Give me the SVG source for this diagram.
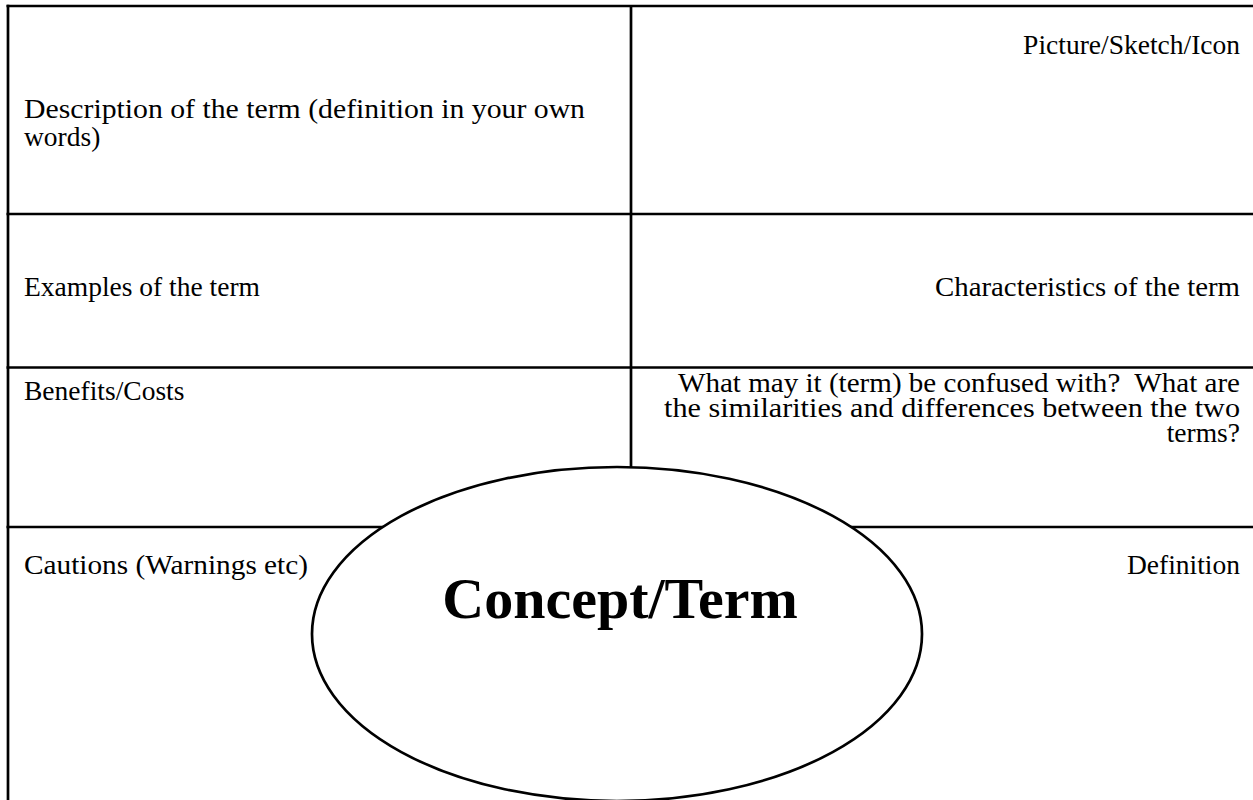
<svg xmlns="http://www.w3.org/2000/svg" width="1253" height="800" viewBox="0 0 1253 800">
<style>
.ln{stroke:#000;stroke-width:2.7;fill:none}
.t{font-family:"Liberation Serif","Times New Roman",serif;font-size:27.5px;fill:#000}
.r{text-anchor:end}
.big{font-family:"Liberation Serif","Times New Roman",serif;font-size:58px;font-weight:bold;text-anchor:middle;fill:#000}
</style>
<rect width="1253" height="800" fill="#fff"/>
<g id="grid">
<line class="ln" x1="6.5" y1="6" x2="1253" y2="6"/>
<line class="ln" x1="8" y1="4.7" x2="8" y2="800"/>
<line class="ln" x1="631" y1="6" x2="631" y2="560"/>
<line class="ln" x1="6.5" y1="214" x2="1253" y2="214"/>
<line class="ln" x1="6.5" y1="367.5" x2="1253" y2="367.5"/>
<line class="ln" x1="6.5" y1="527" x2="1253" y2="527"/>
</g>
<g id="cells">
<g id="description"><text class="t" x="24" y="118" textLength="561" lengthAdjust="spacingAndGlyphs">Description of the term (definition in your own</text><text class="t" x="24" y="146">words)</text></g>
<g id="picture"><text class="t r" x="1240" y="54">Picture/Sketch/Icon</text></g>
<g id="examples"><text class="t" x="24" y="296">Examples of the term</text></g>
<g id="characteristics"><text class="t" x="935" y="296" textLength="305" lengthAdjust="spacingAndGlyphs">Characteristics of the term</text></g>
<g id="benefits"><text class="t" x="24" y="400">Benefits/Costs</text></g>
<g id="confused"><text class="t" x="678" y="392" textLength="562" lengthAdjust="spacingAndGlyphs">What may it (term) be confused with?&#160; What are</text><text class="t" x="664" y="417" textLength="576" lengthAdjust="spacingAndGlyphs">the similarities and differences between the two</text><text class="t r" x="1240" y="442">terms?</text></g>
<g id="cautions"><text class="t" x="24" y="574" textLength="284" lengthAdjust="spacingAndGlyphs">Cautions (Warnings etc)</text></g>
<g id="definition"><text class="t r" x="1240" y="574">Definition</text></g>
</g>
<g id="concept">
<ellipse cx="617" cy="634" rx="305" ry="167" fill="#fff" stroke="#000" stroke-width="2.7"/>
<text class="big" x="620" y="618">Concept/Term</text>
</g>
</svg>
